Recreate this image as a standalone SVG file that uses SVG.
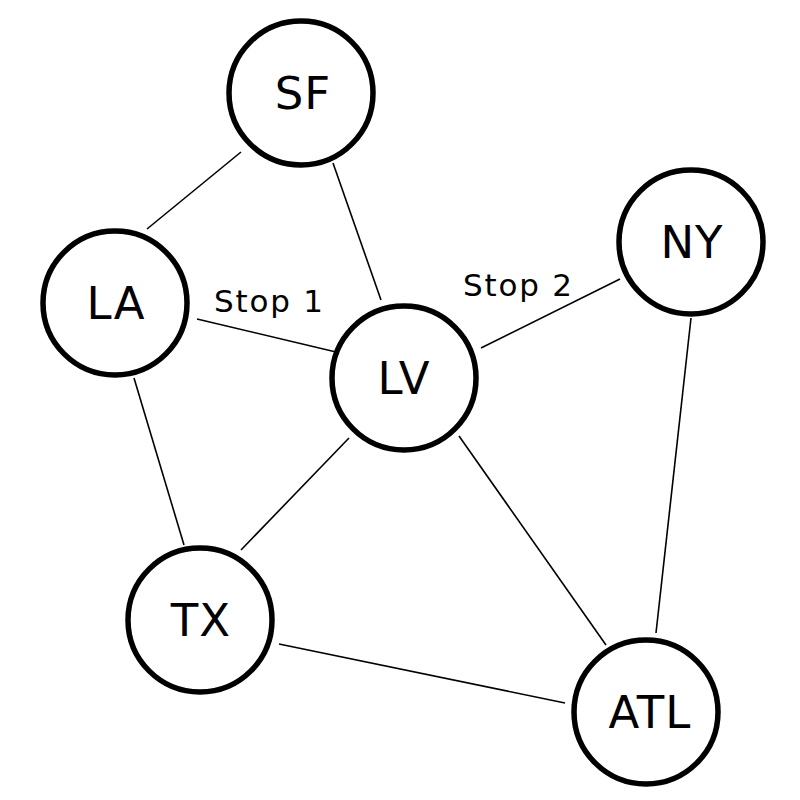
<svg xmlns="http://www.w3.org/2000/svg" width="800" height="800" viewBox="0 0 800 800">
<style>
.node circle{fill:#fff;stroke:#000;stroke-width:5.5}
.node text{font-family:"DejaVu Sans",Verdana,sans-serif;font-size:45px;text-anchor:middle;fill:#000;letter-spacing:1px}
.edge{stroke:#000;stroke-width:1.6;fill:none}
.lbl{font-family:"DejaVu Sans",Verdana,sans-serif;font-size:31px;fill:#000;letter-spacing:1.8px}
</style>
<rect width="800" height="800" fill="#fff"/>
<g id="connectors">
<line class="edge" x1="241" y1="152" x2="147" y2="229"/>
<line class="edge" x1="333" y1="163" x2="381" y2="300"/>
<line class="edge" x1="197" y1="319" x2="336" y2="352"/>
<line class="edge" x1="481" y1="348" x2="620" y2="279"/>
<line class="edge" x1="134" y1="378" x2="184" y2="545"/>
<line class="edge" x1="349" y1="438" x2="241" y2="550"/>
<line class="edge" x1="459" y1="436" x2="606" y2="645"/>
<line class="edge" x1="691" y1="318" x2="656" y2="633"/>
<line class="edge" x1="279" y1="644" x2="565" y2="703"/>
<text class="lbl" x="214" y="312">Stop 1</text>
<text class="lbl" x="463" y="296">Stop 2</text>
</g>
<g id="SF" class="node"><circle cx="301" cy="93" r="72"/><text x="303" y="109">SF</text></g>
<g id="LA" class="node"><circle cx="115" cy="303" r="72"/><text x="116" y="319">LA</text></g>
<g id="LV" class="node"><circle cx="404" cy="378" r="72"/><text x="404" y="394">LV</text></g>
<g id="NY" class="node"><circle cx="691" cy="242" r="72"/><text x="692" y="258">NY</text></g>
<g id="TX" class="node"><circle cx="200" cy="620" r="72"/><text x="201" y="636">TX</text></g>
<g id="ATL" class="node"><circle cx="646" cy="712" r="72"/><text x="650" y="728">ATL</text></g>
</svg>
